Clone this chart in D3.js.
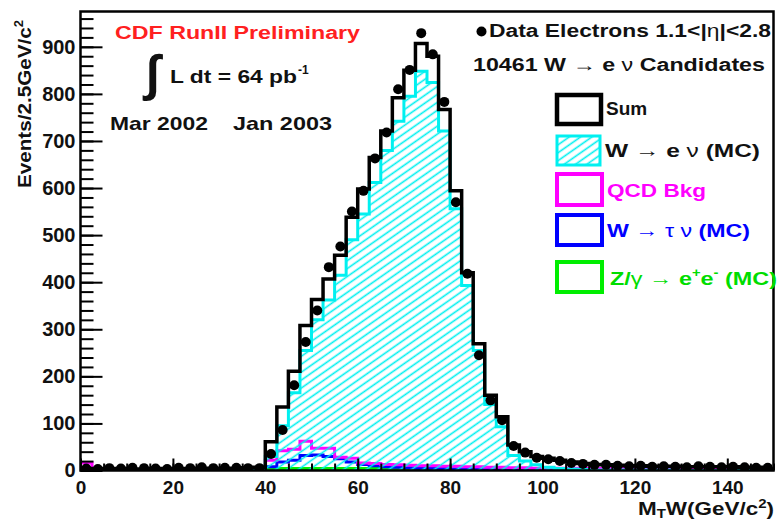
<!DOCTYPE html>
<html>
<head>
<meta charset="utf-8">
<script src="https://cdn.jsdelivr.net/npm/d3@7"></script>
<style>
  body { margin: 0; background: #fff; }
  svg { display: block; }
  text { font-family: "Liberation Sans", Arial, Helvetica, sans-serif; font-weight: bold; }
</style>
</head>
<body>
<svg id="chart" width="780" height="519"></svg>
<script>
// Transverse mass histogram, 60 bins of 2.5 GeV/c^2 from 0 to 150
const binWidth = 2.5;
const nBins = 60;
const binLow = d3.range(nBins).map(i => i * binWidth);

// Data points (events per bin)
const dataVals = [
  4, 3, 5, 4, 6, 5, 4, 3, 6, 5, 7, 5, 6, 6, 5, 5,
  35, 86, 181, 273, 340, 432, 476, 550, 594, 663, 718, 810, 851, 929,
  884, 783, 570, 418, 245, 149, 107, 52, 38, 27, 24, 20, 16, 14, 12, 12,
  10, 9, 10, 8, 9, 8, 7, 9, 8, 7, 8, 7, 6, 6
];

// Sum of all contributions
const sumVals = [
  3, 4, 3, 4, 3, 3, 4, 3, 4, 4, 5, 4, 5, 5, 6, 7,
  61, 135, 211, 308, 363, 407, 457, 538, 598, 665, 721, 792, 850, 907,
  880, 767, 594, 420, 269, 160, 114, 54, 40, 30, 26, 22, 18, 15, 13, 12,
  11, 10, 10, 9, 9, 9, 8, 8, 8, 8, 8, 7, 7, 3
];

// W -> e nu Monte Carlo
const wenuVals = [
  0, 0, 0, 0, 0, 0, 0, 0, 0, 1, 1, 1, 1, 2, 2, 3,
  30, 95, 165, 255, 320, 362, 415, 490, 545, 612, 680, 742, 795, 848,
  824, 721, 556, 393, 255, 140, 93, 32, 20, 12, 7, 4, 3, 2, 1, 1,
  1, 1, 1, 1, 1, 0, 0, 0, 0, 0, 0, 0, 0, 0
];

// QCD background
const qcdVals = [
  16, 2, 2, 2, 2, 1, 1, 1, 1, 1, 1, 1, 1, 1, 1, 2,
  22, 42, 45, 62, 47, 47, 28, 26, 16, 15, 13, 12, 11, 10,
  10, 9, 9, 8, 8, 7, 7, 6, 6, 5, 5, 5, 5, 5, 4, 4,
  4, 4, 4, 4, 4, 4, 3, 3, 3, 3, 3, 3, 3, 3
];

// W -> tau nu Monte Carlo
const wtauVals = [
  0, 0, 0, 0, 0, 0, 0, 0, 0, 0, 0, 0, 0, 0, 0, 0,
  8, 18, 22, 32, 33, 30, 25, 18, 13, 10, 8, 7, 6, 5,
  5, 4, 3, 3, 2, 2, 1, 1, 1, 1, 0, 0, 0, 0, 0, 0,
  0, 0, 0, 0, 0, 0, 0, 0, 0, 0, 0, 0, 0, 0
];

// Z/gamma -> e+ e- Monte Carlo
const zeeVals = [
  0, 0, 0, 0, 0, 0, 0, 0, 0, 0, 0, 0, 0, 0, 0, 0,
  3, 4, 4, 4, 4, 4, 4, 4, 4, 4, 4, 4, 4, 4,
  4, 3, 3, 3, 2, 2, 2, 1, 1, 1, 1, 1, 0, 0, 0, 0,
  0, 0, 0, 0, 0, 0, 0, 0, 0, 0, 0, 0, 0, 0
];

const xMajorTicks = [0, 20, 40, 60, 80, 100, 120, 140];
const yMajorTicks = [0, 100, 200, 300, 400, 500, 600, 700, 800, 900];

const svg = d3.select("#chart");
const plotLeft = 80.5, plotRight = 773.5, plotTop = 11.5, plotBottom = 470.5;

const x = d3.scaleLinear().domain([0, 150]).range([plotLeft, plotRight]);
const y = d3.scaleLinear().domain([0, 975]).range([plotBottom, plotTop]);

svg.append("rect").attr("width", 780).attr("height", 519).attr("fill", "#fff");

const defs = svg.append("defs");
defs.append("clipPath").attr("id", "plotClip")
  .append("rect").attr("x", plotLeft).attr("y", plotTop)
  .attr("width", plotRight - plotLeft).attr("height", plotBottom - plotTop);

const hatch = defs.append("pattern").attr("id", "hatch")
  .attr("patternUnits", "userSpaceOnUse")
  .attr("width", 10).attr("height", 6.5)
  .attr("patternTransform", "rotate(-35)");
hatch.append("line").attr("x1", 0).attr("x2", 10).attr("y1", 3.2).attr("y2", 3.2)
  .attr("stroke", "#00f0f0").attr("stroke-width", 1.6);

const stepPoints = vals => vals.map((v, i) => [binLow[i], v]).concat([[150, vals[vals.length - 1]]]);
const stepLine = d3.line().x(d => x(d[0])).y(d => y(d[1])).curve(d3.curveStepAfter);
const stepArea = d3.area().x(d => x(d[0])).y0(y(0)).y1(d => y(d[1])).curve(d3.curveStepAfter);

const plot = svg.append("g").attr("clip-path", "url(#plotClip)");

// background contributions
[[zeeVals, "#00ee00"], [wtauVals, "#0000ff"], [qcdVals, "#ff00ff"]].forEach(([vals, col]) => {
  plot.append("path").attr("d", stepLine(stepPoints(vals)))
    .attr("fill", "none").attr("stroke", col).attr("stroke-width", 3);
});

// W -> e nu hatched histogram
plot.append("path").attr("d", stepArea(stepPoints(wenuVals))).attr("fill", "url(#hatch)");
plot.append("path").attr("d", stepLine(stepPoints(wenuVals)))
  .attr("fill", "none").attr("stroke", "#00f0f0").attr("stroke-width", 3);

// Sum histogram
plot.append("path").attr("d", stepLine(stepPoints(sumVals)))
  .attr("fill", "none").attr("stroke", "#000").attr("stroke-width", 3.5);

// data points
plot.selectAll("circle.data").data(dataVals).join("circle")
  .attr("class", "data")
  .attr("cx", (d, i) => x(binLow[i] + binWidth / 2))
  .attr("cy", d => y(d))
  .attr("r", 5).attr("fill", "#000");

// axes: ticks pointing into the frame
function styleAxis(g, size) {
  g.attr("font-family", null).attr("font-size", size).attr("font-weight", "bold");
  g.select(".domain").remove();
  g.selectAll(".tick line").attr("stroke", "#000").attr("stroke-width", 2);
  g.selectAll(".tick text").attr("fill", "#111");
}

svg.append("g").attr("transform", `translate(${plotLeft},0)`)
  .call(d3.axisLeft(y).tickValues(d3.range(0, 975, 20)).tickSize(-13).tickFormat(""))
  .call(g => styleAxis(g, 20));
svg.append("g").attr("transform", `translate(${plotLeft},0)`)
  .call(d3.axisLeft(y).tickValues(yMajorTicks).tickSize(-22).tickPadding(5).tickFormat(d3.format("d")))
  .call(g => styleAxis(g, 20));

svg.append("g").attr("transform", `translate(0,${plotBottom})`)
  .call(d3.axisBottom(x).tickValues(d3.range(0, 151, 5)).tickSize(-7).tickFormat(""))
  .call(g => styleAxis(g, 19));
svg.append("g").attr("transform", `translate(0,${plotBottom})`)
  .call(d3.axisBottom(x).tickValues(xMajorTicks).tickSize(-12).tickPadding(10).tickFormat(d3.format("d")))
  .call(g => styleAxis(g, 19));

// frame
svg.append("rect").attr("x", plotLeft).attr("y", plotTop)
  .attr("width", plotRight - plotLeft).attr("height", plotBottom - plotTop)
  .attr("fill", "none").attr("stroke", "#000").attr("stroke-width", 2.5);

// axis titles
const yTitle = svg.append("text").attr("transform", "translate(31,188) rotate(-90)")
  .attr("font-size", 19).attr("fill", "#111").attr("textLength", 168).attr("lengthAdjust", "spacingAndGlyphs");
yTitle.append("tspan").text("Events/2.5GeV/c");
yTitle.append("tspan").attr("font-size", 12).attr("dy", -8).text("2");

const xTitle = svg.append("text").attr("x", 638).attr("y", 514.5)
  .attr("font-size", 18).attr("fill", "#111").attr("textLength", 136).attr("lengthAdjust", "spacingAndGlyphs");
xTitle.append("tspan").text("M");
xTitle.append("tspan").attr("font-size", 12).attr("dy", 3).text("T");
xTitle.append("tspan").attr("dy", -3).text("W(GeV/c");
xTitle.append("tspan").attr("font-size", 12).attr("dy", -7).text("2");
xTitle.append("tspan").attr("font-size", 18).attr("dy", 7).text(")");

// annotations
svg.append("text").attr("x", 115).attr("y", 39).attr("font-size", 18).attr("fill", "#ff2020")
  .attr("textLength", 245).attr("lengthAdjust", "spacingAndGlyphs").text("CDF RunII Preliminary");

svg.append("text").attr("x", 146).attr("y", 90).attr("font-size", 50)
  .attr("font-family", "DejaVu Sans").attr("font-weight", "normal").attr("fill", "#111").text("∫");
svg.append("text").attr("x", 170).attr("y", 83).attr("font-size", 19).attr("fill", "#111")
  .attr("textLength", 127).attr("lengthAdjust", "spacingAndGlyphs").text("L dt = 64 pb");
svg.append("text").attr("x", 298).attr("y", 74).attr("font-size", 12).attr("fill", "#111").text("-1");

svg.append("text").attr("x", 110).attr("y", 130).attr("font-size", 19).attr("fill", "#111")
  .attr("textLength", 98).attr("lengthAdjust", "spacingAndGlyphs").text("Mar 2002");
svg.append("text").attr("x", 233).attr("y", 130).attr("font-size", 19).attr("fill", "#111")
  .attr("textLength", 99).attr("lengthAdjust", "spacingAndGlyphs").text("Jan 2003");

svg.append("circle").attr("cx", 481.5).attr("cy", 31.5).attr("r", 5).attr("fill", "#000");
const dataLabel = svg.append("text").attr("x", 489).attr("y", 37).attr("font-size", 18).attr("fill", "#111")
  .attr("textLength", 282).attr("lengthAdjust", "spacingAndGlyphs");
dataLabel.append("tspan").text("Data Electrons 1.1<|");
dataLabel.append("tspan").attr("font-weight", "normal").text("η");
dataLabel.append("tspan").text("|<2.8");

const candLabel = svg.append("text").attr("x", 473).attr("y", 71).attr("font-size", 18).attr("fill", "#111")
  .attr("textLength", 292).attr("lengthAdjust", "spacingAndGlyphs");
candLabel.append("tspan").text("10461 W ");
candLabel.append("tspan").attr("font-weight", "normal").text("→");
candLabel.append("tspan").text(" e ");
candLabel.append("tspan").attr("font-weight", "normal").text("ν");
candLabel.append("tspan").text(" Candidates");

// legend
const legendRows = [
  { box: [557, 95, 44, 29], stroke: "#000", sw: 4.5, fill: "#fff", color: "#111", tx: 606, ty: 115, len: null,
    parts: [["Sum", "bold"]] },
  { box: [557, 136, 43, 29], stroke: "#00f0f0", sw: 3, fill: "url(#hatch)", color: "#111", tx: 605, ty: 157, len: 155,
    parts: [["W ", "bold"], ["→", "normal"], ["  e ", "bold"], ["ν", "normal"], [" (MC)", "bold"]] },
  { box: [557, 174, 45, 31], stroke: "#ff00ff", sw: 4, fill: "#fff", color: "#ff00ff", tx: 607, ty: 197, len: 99,
    parts: [["QCD Bkg", "bold"]] },
  { box: [557, 215, 45, 30], stroke: "#0000ff", sw: 4, fill: "#fff", color: "#0000ff", tx: 607, ty: 237, len: 143,
    parts: [["W ", "bold"], ["→", "normal"], [" ", "bold"], ["τ", "normal"], [" ", "bold"], ["ν", "normal"], [" (MC)", "bold"]] },
  { box: [557, 262, 45, 30], stroke: "#00ee00", sw: 4, fill: "#fff", color: "#00dd00", tx: 610, ty: 285, len: 167,
    parts: [["Z/", "bold"], ["γ", "normal"], [" ", "bold"], ["→", "normal"], [" e", "bold"], ["+", "sup"], ["e", "bold"], ["-", "sup"], [" (MC)", "bold"]] }
];

legendRows.forEach(r => {
  svg.append("rect").attr("x", r.box[0]).attr("y", r.box[1]).attr("width", r.box[2]).attr("height", r.box[3])
    .attr("fill", r.fill).attr("stroke", r.stroke).attr("stroke-width", r.sw);
  const t = svg.append("text").attr("x", r.tx).attr("y", r.ty).attr("font-size", 19).attr("fill", r.color);
  if (r.len) t.attr("textLength", r.len).attr("lengthAdjust", "spacingAndGlyphs");
  let raised = false;
  r.parts.forEach(([s, kind]) => {
    const ts = t.append("tspan").text(s);
    if (kind === "sup") {
      ts.attr("font-size", 12).attr("dy", raised ? 0 : -8);
      raised = true;
    } else {
      if (raised) { ts.attr("dy", 8); raised = false; }
      ts.attr("font-weight", kind === "normal" ? "normal" : "bold");
    }
  });
});
</script>
</body>
</html>
